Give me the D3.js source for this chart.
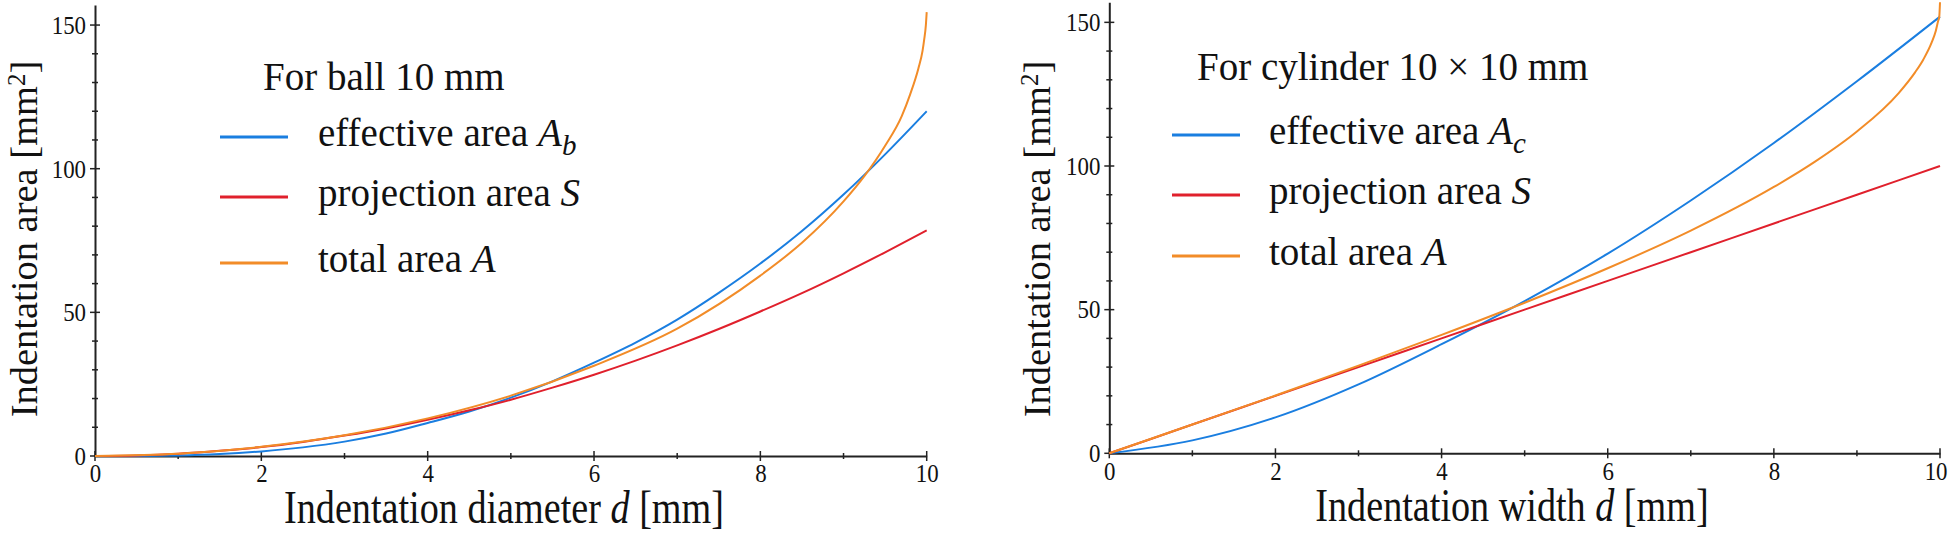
<!DOCTYPE html>
<html>
<head>
<meta charset="utf-8">
<script src="https://cdn.jsdelivr.net/npm/d3@7"></script>
<style>
  body { margin: 0; background: #fff; }
  svg { display: block; }
  text { font-family: "Liberation Serif", "Times New Roman", serif; fill: #111; }
</style>
</head>
<body>
<div id="chart"></div>
<script>
// ---- data ----
// left: ball 10 mm, x = indentation diameter d [mm]
const ballDiam = [0, 0.5, 1, 1.5, 2, 2.5, 3, 3.5, 4, 4.5, 5, 5.5, 6, 6.5, 7, 7.5, 8, 8.5, 9, 9.5, 10];
const ballEffective = [0, 0.02, 0.2, 0.7, 1.6, 3, 5, 7.8, 11.5, 15.5, 20.3, 26, 32.5, 39.5, 47.5, 56.8, 67, 78.3, 91, 105, 120];
const ballProjection = [0, 0.2, 0.8, 1.8, 3.1, 4.9, 7.1, 9.6, 12.6, 15.9, 19.6, 23.8, 28.3, 33.2, 38.5, 44.2, 50.3, 56.7, 63.6, 70.9, 78.5];
const ballTotalDiam = [0, 1, 2, 3, 4, 5, 6, 7, 8, 8.5, 9, 9.25, 9.5, 9.7, 9.8, 9.9, 9.95, 9.97, 9.99, 10];
const ballTotal = [0, 0.8, 3.2, 7.2, 13.1, 21, 31.4, 44.3, 62.8, 74.2, 88.6, 97.4, 108, 118.3, 125.8, 134.9, 141, 145, 150, 154.5];

// right: cylinder 10 x 10 mm, x = indentation width d [mm]
const cylWidth = [0, 1, 2, 3, 4, 5, 6, 7, 8, 9, 10];
const cylEffective = [0, 4.5, 12.5, 24, 38, 53, 69.5, 88, 108, 129.5, 152];
const cylProjection = [0, 10, 20, 30, 40, 50, 60, 70, 80, 90, 100];
const cylTotalWidth = [0, 1, 2, 3, 4, 5, 6, 7, 8, 8.5, 9, 9.5, 9.7, 9.8, 9.9, 9.95, 9.98, 9.99, 10];
const cylTotal = [0, 10, 20.1, 30.5, 41.2, 52.4, 64.4, 77.5, 92.7, 101.6, 112, 125.3, 132.6, 137.1, 143, 147.1, 150.7, 151.6, 157];

// ticks
const xMajorTicks = [0, 2, 4, 6, 8, 10];
const xMinorTicks = [1, 3, 5, 7, 9];
const yMajorTicks = [0, 50, 100, 150];
const yMinorTicks = [10, 20, 30, 40, 60, 70, 80, 90, 110, 120, 130, 140];

const colors = { effective: '#1a7ee0', projection: '#e0202c', total: '#f28c28' };
const serif = '"Liberation Serif", "Times New Roman", serif';

const W = 1948, H = 533;
const svg = d3.select('#chart').append('svg')
    .attr('width', W)
    .attr('height', H);

// narrow the glyphs horizontally around the text's own x
function squeeze(sel, k) {
  sel.each(function() {
    const t = d3.select(this);
    const x0 = +t.attr('x') || 0;
    t.attr('transform', 'translate(' + (x0 * (1 - k)) + ',0) scale(' + k + ',1)');
  });
}

function drawPanel(p) {
  const x = d3.scaleLinear().domain([0, 10]).range([p.left, p.right]);
  const y = d3.scaleLinear().domain([0, 157]).range([p.bottom, p.bottom - 157 * 2.873]);
  const g = svg.append('g');

  // axes
  const gx = g.append('g')
      .attr('transform', 'translate(0,' + p.bottom + ')')
      .call(d3.axisBottom(x).tickValues(xMajorTicks).tickSize(0).tickPadding(8).tickFormat(d3.format('d')));
  const gy = g.append('g')
      .attr('transform', 'translate(' + p.left + ',0)')
      .call(d3.axisLeft(y).tickValues(yMajorTicks).tickSize(0).tickPadding(9).tickFormat(d3.format('d')));
  [gx, gy].forEach(a => {
    a.attr('font-family', serif).attr('font-size', 26);
    a.select('.domain').attr('stroke', '#222').attr('stroke-width', 2);
    a.selectAll('text').attr('fill', '#111').call(squeeze, 0.88);
  });
  // last x label sits against the picture edge
  if (p.lastTickDx) gx.selectAll('.tick text').filter(d => d === 10).attr('dx', p.lastTickDx);

  // cross ticks
  const tickG = g.append('g').attr('stroke', '#222').attr('stroke-width', 1.5);
  tickG.selectAll('line.xmaj').data(xMajorTicks).join('line')
      .attr('x1', d => x(d)).attr('x2', d => x(d))
      .attr('y1', p.bottom - 5).attr('y2', p.bottom + 5);
  tickG.selectAll('line.xmin').data(xMinorTicks).join('line')
      .attr('x1', d => x(d)).attr('x2', d => x(d))
      .attr('y1', p.bottom - 3).attr('y2', p.bottom + 3);
  tickG.selectAll('line.ymaj').data(yMajorTicks).join('line')
      .attr('x1', p.left - 5).attr('x2', p.left + 5)
      .attr('y1', d => y(d)).attr('y2', d => y(d));
  tickG.selectAll('line.ymin').data(yMinorTicks).join('line')
      .attr('x1', p.left - 3).attr('x2', p.left + 3)
      .attr('y1', d => y(d)).attr('y2', d => y(d));

  // curves
  const line = d3.line().x(d => x(d[0])).y(d => y(d[1])).curve(d3.curveMonotoneX);
  p.series.forEach(s => {
    g.append('path')
        .datum(d3.zip(s.xs, s.ys))
        .attr('fill', 'none')
        .attr('stroke', s.color)
        .attr('stroke-width', 2)
        .attr('d', line);
  });

  // axis titles
  const xt = g.append('text')
      .attr('x', p.xLabelX).attr('y', p.xLabelY)
      .attr('text-anchor', 'middle')
      .attr('font-size', 46);
  xt.append('tspan').text(p.xLabel + ' ');
  xt.append('tspan').attr('font-style', 'italic').text('d');
  xt.append('tspan').text(' [mm]');
  xt.call(squeeze, 0.83);

  const yt = g.append('text')
      .attr('transform', 'translate(' + p.yLabelX + ',239) rotate(-90)')
      .attr('text-anchor', 'middle')
      .attr('font-size', 38.5);
  yt.append('tspan').text('Indentation area [mm');
  yt.append('tspan').attr('font-size', 25).attr('dy', -12).text('2');
  yt.append('tspan').attr('dy', 12).text(']');

  // legend
  const lg = g.append('g');
  lg.append('text')
      .attr('x', p.legend.titleX).attr('y', p.legend.titleY)
      .attr('font-size', 39)
      .text(p.legend.title);
  p.series.forEach((s, i) => {
    const yy = p.legend.rowY[i];
    lg.append('line')
        .attr('x1', p.legend.lineX0).attr('x2', p.legend.lineX1)
        .attr('y1', yy).attr('y2', yy)
        .attr('stroke', s.color).attr('stroke-width', 3);
    const t = lg.append('text')
        .attr('x', p.legend.textX).attr('y', yy + 9)
        .attr('font-size', 39);
    t.append('tspan').text(s.label + ' ');
    t.append('tspan').attr('font-style', 'italic').text(s.sym);
    if (s.sub) t.append('tspan').attr('font-style', 'italic').attr('font-size', 29).attr('dy', 9).text(s.sub);
  });
}

drawPanel({
  left: 95, right: 926.7, bottom: 456,
  xLabel: 'Indentation diameter', xLabelX: 504, xLabelY: 523, yLabelX: 37,
  legend: { title: 'For ball 10 mm', titleX: 263, titleY: 90, lineX0: 220, lineX1: 288,
            textX: 318, rowY: [137, 197, 263] },
  series: [
    { xs: ballDiam, ys: ballEffective, color: colors.effective, label: 'effective area', sym: 'A', sub: 'b' },
    { xs: ballDiam, ys: ballProjection, color: colors.projection, label: 'projection area', sym: 'S' },
    { xs: ballTotalDiam, ys: ballTotal, color: colors.total, label: 'total area', sym: 'A' }
  ]
});

drawPanel({
  left: 1109.3, right: 1940, bottom: 453.3, lastTickDx: -5,
  xLabel: 'Indentation width', xLabelX: 1512, xLabelY: 521, yLabelX: 1050,
  legend: { title: 'For cylinder 10 \u00d7 10 mm', titleX: 1197, titleY: 80, lineX0: 1172, lineX1: 1240,
            textX: 1269, rowY: [135, 195, 256] },
  series: [
    { xs: cylWidth, ys: cylEffective, color: colors.effective, label: 'effective area', sym: 'A', sub: 'c' },
    { xs: cylWidth, ys: cylProjection, color: colors.projection, label: 'projection area', sym: 'S' },
    { xs: cylTotalWidth, ys: cylTotal, color: colors.total, label: 'total area', sym: 'A' }
  ]
});
</script>
</body>
</html>
